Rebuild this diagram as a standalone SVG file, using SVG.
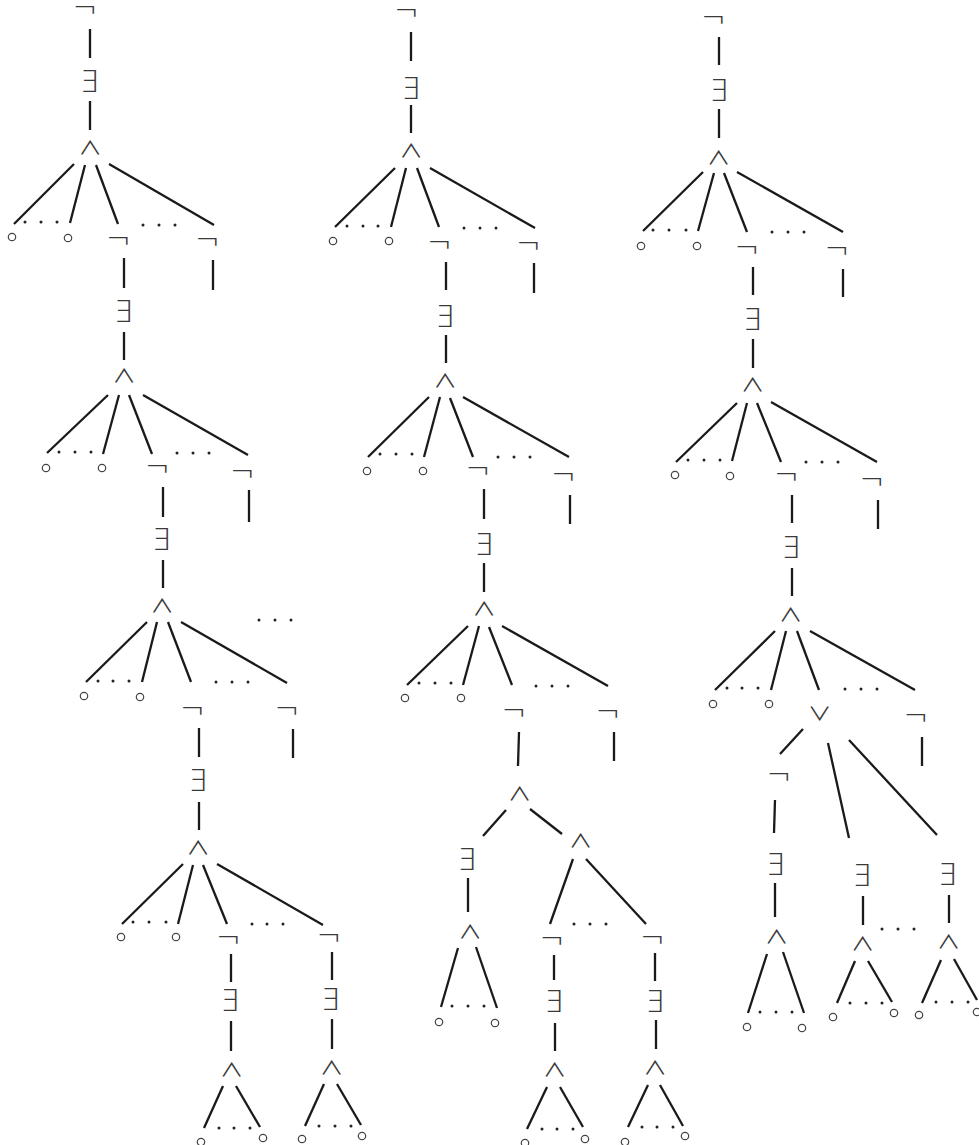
<svg xmlns="http://www.w3.org/2000/svg" width="979" height="1145" viewBox="0 0 979 1145">
<style>
.bg{fill:#fff}
line{stroke:#1a1a1a;stroke-width:2.3;stroke-linecap:butt}
.d{fill:#222}
.o{fill:none;stroke:#444;stroke-width:1.2}
text{font-family:"DejaVu Sans",sans-serif;font-weight:200;fill:#3a3a3a;text-anchor:middle}
.n{font-size:30px}
.e{font-size:30px}
.a{font-family:"Noto Sans CJK JP","DejaVu Sans",sans-serif;font-weight:400;font-size:19px}
</style>
<rect class="bg" x="0" y="0" width="979" height="1145"/>
<g id="connectors">
<line x1="90" y1="29" x2="90" y2="58"/><line x1="90" y1="101" x2="90" y2="130"/>
<line x1="74" y1="164" x2="14" y2="224"/><line x1="85" y1="165" x2="70" y2="223"/><line x1="96" y1="165" x2="118" y2="224"/><line x1="109" y1="164" x2="214" y2="225"/>
<line x1="124" y1="258" x2="124" y2="288"/><line x1="213" y1="260" x2="213" y2="290"/>
<line x1="124" y1="332" x2="124" y2="360"/>
<line x1="108" y1="395" x2="47" y2="453"/><line x1="119" y1="395" x2="103" y2="454"/><line x1="129" y1="395" x2="152" y2="454"/><line x1="143" y1="395" x2="248" y2="455"/>
<line x1="163" y1="487" x2="163" y2="517"/><line x1="249" y1="490" x2="249" y2="522"/>
<line x1="163" y1="560" x2="163" y2="588"/>
<line x1="147" y1="622" x2="86" y2="682"/><line x1="157" y1="622" x2="142" y2="682"/><line x1="168" y1="622" x2="191" y2="682"/><line x1="181" y1="622" x2="287" y2="683"/>
<line x1="199" y1="728" x2="199" y2="757"/><line x1="293" y1="729" x2="293" y2="758"/>
<line x1="199" y1="802" x2="199" y2="830"/>
<line x1="183" y1="864" x2="122" y2="924"/><line x1="193" y1="865" x2="178" y2="924"/><line x1="203" y1="865" x2="227" y2="924"/><line x1="217" y1="864" x2="323" y2="925"/>
<line x1="231" y1="954" x2="231" y2="982"/><line x1="332" y1="952" x2="332" y2="980"/>
<line x1="231" y1="1021" x2="231" y2="1051"/><line x1="332" y1="1019" x2="332" y2="1049"/>
<line x1="223" y1="1086" x2="204" y2="1128"/><line x1="236" y1="1086" x2="260" y2="1127"/>
<line x1="324" y1="1084" x2="305" y2="1126"/><line x1="337" y1="1084" x2="361" y2="1125"/>

<line x1="411" y1="32" x2="411" y2="61"/><line x1="411" y1="105" x2="411" y2="133"/>
<line x1="395" y1="168" x2="335" y2="227"/><line x1="406" y1="168" x2="391" y2="227"/><line x1="417" y1="168" x2="439" y2="227"/><line x1="430" y1="168" x2="535" y2="228"/>
<line x1="446" y1="262" x2="446" y2="290"/><line x1="534" y1="263" x2="534" y2="293"/>
<line x1="446" y1="335" x2="446" y2="363"/>
<line x1="429" y1="397" x2="368" y2="457"/><line x1="440" y1="397" x2="424" y2="457"/><line x1="450" y1="398" x2="473" y2="457"/><line x1="463" y1="397" x2="569" y2="457"/>
<line x1="484" y1="489" x2="484" y2="519"/><line x1="570" y1="495" x2="570" y2="524"/>
<line x1="484" y1="563" x2="484" y2="592"/>
<line x1="468" y1="626" x2="407" y2="685"/><line x1="479" y1="626" x2="463" y2="685"/><line x1="489" y1="627" x2="512" y2="685"/><line x1="502" y1="626" x2="608" y2="686"/>
<line x1="519" y1="732" x2="518" y2="766"/><line x1="614" y1="732" x2="614" y2="761"/>
<line x1="506" y1="810" x2="483" y2="836"/><line x1="530" y1="809" x2="562" y2="834"/>
<line x1="468" y1="878" x2="468" y2="912"/>
<line x1="458" y1="948" x2="441" y2="1007"/><line x1="476" y1="947" x2="497" y2="1008"/>
<line x1="573" y1="859" x2="550" y2="924"/><line x1="586" y1="859" x2="646" y2="924"/>
<line x1="554" y1="955" x2="554" y2="980"/><line x1="655" y1="953" x2="655" y2="981"/>
<line x1="555" y1="1023" x2="555" y2="1051"/><line x1="656" y1="1020" x2="656" y2="1049"/>
<line x1="547" y1="1087" x2="527" y2="1129"/><line x1="560" y1="1087" x2="583" y2="1127"/>
<line x1="648" y1="1085" x2="628" y2="1127"/><line x1="660" y1="1085" x2="683" y2="1126"/>

<line x1="719" y1="37" x2="719" y2="65"/><line x1="719" y1="109" x2="719" y2="138"/>
<line x1="703" y1="172" x2="643" y2="231"/><line x1="714" y1="173" x2="698" y2="231"/><line x1="724" y1="173" x2="747" y2="232"/><line x1="737" y1="172" x2="843" y2="232"/>
<line x1="753" y1="267" x2="753" y2="295"/><line x1="843" y1="269" x2="843" y2="297"/>
<line x1="753" y1="339" x2="753" y2="368"/>
<line x1="737" y1="403" x2="676" y2="462"/><line x1="747" y1="403" x2="732" y2="461"/><line x1="757" y1="403" x2="781" y2="462"/><line x1="771" y1="402" x2="877" y2="462"/>
<line x1="792" y1="495" x2="792" y2="523"/><line x1="878" y1="500" x2="878" y2="529"/>
<line x1="792" y1="568" x2="792" y2="596"/>
<line x1="775" y1="631" x2="715" y2="690"/><line x1="786" y1="631" x2="771" y2="690"/><line x1="797" y1="631" x2="819" y2="690"/><line x1="810" y1="631" x2="915" y2="690"/>
<line x1="922" y1="737" x2="922" y2="766"/>
<line x1="803" y1="729" x2="780" y2="754"/><line x1="828" y1="743" x2="849" y2="838"/><line x1="849" y1="740" x2="937" y2="835"/>
<line x1="775" y1="800" x2="774" y2="833"/><line x1="775" y1="883" x2="775" y2="917"/>
<line x1="767" y1="954" x2="748" y2="1013"/><line x1="783" y1="952" x2="804" y2="1013"/>
<line x1="863" y1="896" x2="863" y2="925"/><line x1="949" y1="895" x2="949" y2="923"/>
<line x1="855" y1="961" x2="837" y2="1003"/><line x1="868" y1="961" x2="892" y2="1002"/>
<line x1="941" y1="960" x2="922" y2="1003"/><line x1="954" y1="959" x2="977" y2="1000"/>
</g>
<g id="ellipses">
<circle class="d" cx="25" cy="222" r="1.5"/><circle class="d" cx="41" cy="222" r="1.5"/><circle class="d" cx="57" cy="222" r="1.5"/>
<circle class="d" cx="143" cy="225" r="1.5"/><circle class="d" cx="159" cy="225" r="1.5"/><circle class="d" cx="175" cy="225" r="1.5"/>
<circle class="d" cx="59" cy="452" r="1.5"/><circle class="d" cx="75" cy="452" r="1.5"/><circle class="d" cx="91" cy="452" r="1.5"/>
<circle class="d" cx="177" cy="453" r="1.5"/><circle class="d" cx="193" cy="453" r="1.5"/><circle class="d" cx="209" cy="453" r="1.5"/>
<circle class="d" cx="98" cy="681" r="1.5"/><circle class="d" cx="113" cy="681" r="1.5"/><circle class="d" cx="129" cy="681" r="1.5"/>
<circle class="d" cx="216" cy="682" r="1.5"/><circle class="d" cx="232" cy="682" r="1.5"/><circle class="d" cx="248" cy="682" r="1.5"/>
<circle class="d" cx="259" cy="620" r="1.5"/><circle class="d" cx="275" cy="620" r="1.5"/><circle class="d" cx="291" cy="620" r="1.5"/>
<circle class="d" cx="133" cy="922" r="1.5"/><circle class="d" cx="149" cy="922" r="1.5"/><circle class="d" cx="166" cy="922" r="1.5"/>
<circle class="d" cx="252" cy="924" r="1.5"/><circle class="d" cx="267" cy="924" r="1.5"/><circle class="d" cx="283" cy="924" r="1.5"/>
<circle class="d" cx="219" cy="1128" r="1.5"/><circle class="d" cx="234" cy="1128" r="1.5"/><circle class="d" cx="250" cy="1128" r="1.5"/>
<circle class="d" cx="319" cy="1126" r="1.5"/><circle class="d" cx="335" cy="1126" r="1.5"/><circle class="d" cx="351" cy="1126" r="1.5"/>
<circle class="d" cx="347" cy="226" r="1.5"/><circle class="d" cx="363" cy="226" r="1.5"/><circle class="d" cx="378" cy="226" r="1.5"/>
<circle class="d" cx="464" cy="228" r="1.5"/><circle class="d" cx="480" cy="228" r="1.5"/><circle class="d" cx="496" cy="228" r="1.5"/>
<circle class="d" cx="380" cy="454" r="1.5"/><circle class="d" cx="396" cy="454" r="1.5"/><circle class="d" cx="412" cy="454" r="1.5"/>
<circle class="d" cx="498" cy="457" r="1.5"/><circle class="d" cx="514" cy="457" r="1.5"/><circle class="d" cx="530" cy="457" r="1.5"/>
<circle class="d" cx="419" cy="683" r="1.5"/><circle class="d" cx="435" cy="683" r="1.5"/><circle class="d" cx="451" cy="683" r="1.5"/>
<circle class="d" cx="536" cy="686" r="1.5"/><circle class="d" cx="552" cy="686" r="1.5"/><circle class="d" cx="568" cy="686" r="1.5"/>
<circle class="d" cx="452" cy="1006" r="1.5"/><circle class="d" cx="468" cy="1006" r="1.5"/><circle class="d" cx="484" cy="1006" r="1.5"/>
<circle class="d" cx="574" cy="924" r="1.5"/><circle class="d" cx="590" cy="924" r="1.5"/><circle class="d" cx="606" cy="924" r="1.5"/>
<circle class="d" cx="542" cy="1129" r="1.5"/><circle class="d" cx="557" cy="1129" r="1.5"/><circle class="d" cx="573" cy="1129" r="1.5"/>
<circle class="d" cx="642" cy="1127" r="1.5"/><circle class="d" cx="657" cy="1127" r="1.5"/><circle class="d" cx="673" cy="1127" r="1.5"/>
<circle class="d" cx="653" cy="230" r="1.5"/><circle class="d" cx="669" cy="230" r="1.5"/><circle class="d" cx="686" cy="230" r="1.5"/>
<circle class="d" cx="772" cy="232" r="1.5"/><circle class="d" cx="788" cy="232" r="1.5"/><circle class="d" cx="804" cy="232" r="1.5"/>
<circle class="d" cx="688" cy="460" r="1.5"/><circle class="d" cx="704" cy="460" r="1.5"/><circle class="d" cx="720" cy="460" r="1.5"/>
<circle class="d" cx="806" cy="462" r="1.5"/><circle class="d" cx="822" cy="462" r="1.5"/><circle class="d" cx="838" cy="462" r="1.5"/>
<circle class="d" cx="727" cy="688" r="1.5"/><circle class="d" cx="742" cy="688" r="1.5"/><circle class="d" cx="758" cy="688" r="1.5"/>
<circle class="d" cx="845" cy="689" r="1.5"/><circle class="d" cx="861" cy="689" r="1.5"/><circle class="d" cx="877" cy="689" r="1.5"/>
<circle class="d" cx="760" cy="1012" r="1.5"/><circle class="d" cx="776" cy="1012" r="1.5"/><circle class="d" cx="792" cy="1012" r="1.5"/>
<circle class="d" cx="850" cy="1003" r="1.5"/><circle class="d" cx="866" cy="1003" r="1.5"/><circle class="d" cx="882" cy="1003" r="1.5"/>
<circle class="d" cx="936" cy="1002" r="1.5"/><circle class="d" cx="952" cy="1002" r="1.5"/><circle class="d" cx="968" cy="1002" r="1.5"/>
<circle class="d" cx="882" cy="929" r="1.5"/><circle class="d" cx="898" cy="929" r="1.5"/><circle class="d" cx="914" cy="929" r="1.5"/>
</g>
<g id="tree-left">
<g id="L1-neg"><text class="n" x="85" y="18">¬</text></g>
<g id="L1-ex"><text class="e" x="89" y="92">∃</text></g>
<g id="L1-and"><text class="a" transform="translate(90,155) scale(1.25,1)">∧</text></g>
<g id="L1-o1"><circle class="o" cx="12" cy="237" r="3.7"/></g>
<g id="L1-o2"><circle class="o" cx="68" cy="238" r="3.7"/></g>
<g id="L1-neg2"><text class="n" x="118.5" y="249">¬</text></g>
<g id="L1-neg3"><text class="n" x="207.5" y="250">¬</text></g>
<g id="L2-ex"><text class="e" x="123" y="322">∃</text></g>
<g id="L2-and"><text class="a" transform="translate(124,383) scale(1.25,1)">∧</text></g>
<g id="L2-o1"><circle class="o" cx="46" cy="468" r="3.7"/></g>
<g id="L2-o2"><circle class="o" cx="102" cy="468" r="3.7"/></g>
<g id="L2-neg2"><text class="n" x="157.5" y="477">¬</text></g>
<g id="L2-neg3"><text class="n" x="242.5" y="482">¬</text></g>
<g id="L3-ex"><text class="e" x="161" y="550">∃</text></g>
<g id="L3-and"><text class="a" transform="translate(162,613) scale(1.25,1)">∧</text></g>
<g id="L3-o1"><circle class="o" cx="84" cy="696" r="3.7"/></g>
<g id="L3-o2"><circle class="o" cx="140" cy="697" r="3.7"/></g>
<g id="L3-neg2"><text class="n" x="192.5" y="719">¬</text></g>
<g id="L3-neg3"><text class="n" x="287" y="719">¬</text></g>
<g id="L4-ex"><text class="e" x="197.5" y="791">∃</text></g>
<g id="L4-and"><text class="a" transform="translate(198,855) scale(1.25,1)">∧</text></g>
<g id="L4-o1"><circle class="o" cx="121" cy="937" r="3.7"/></g>
<g id="L4-o2"><circle class="o" cx="176" cy="937" r="3.7"/></g>
<g id="L4-neg2"><text class="n" x="228.5" y="948">¬</text></g>
<g id="L4-neg3"><text class="n" x="329" y="946">¬</text></g>
<g id="L5a-ex"><text class="e" x="229.5" y="1011">∃</text></g>
<g id="L5a-and"><text class="a" transform="translate(231.5,1077) scale(1.25,1)">∧</text></g>
<g id="L5a-o1"><circle class="o" cx="201" cy="1142" r="3.7"/></g>
<g id="L5a-o2"><circle class="o" cx="263" cy="1138" r="3.7"/></g>
<g id="L5b-ex"><text class="e" x="330" y="1010">∃</text></g>
<g id="L5b-and"><text class="a" transform="translate(331.5,1075) scale(1.25,1)">∧</text></g>
<g id="L5b-o1"><circle class="o" cx="302" cy="1139" r="3.7"/></g>
<g id="L5b-o2"><circle class="o" cx="362" cy="1136" r="3.7"/></g>
</g>
<g id="tree-middle">
<g id="M1-neg"><text class="n" x="406.5" y="21">¬</text></g>
<g id="M1-ex"><text class="e" x="410.5" y="99">∃</text></g>
<g id="M1-and"><text class="a" transform="translate(411,158) scale(1.25,1)">∧</text></g>
<g id="M1-o1"><circle class="o" cx="333" cy="241" r="3.7"/></g>
<g id="M1-o2"><circle class="o" cx="389" cy="241" r="3.7"/></g>
<g id="M1-neg2"><text class="n" x="439.5" y="253">¬</text></g>
<g id="M1-neg3"><text class="n" x="528.5" y="254">¬</text></g>
<g id="M2-ex"><text class="e" x="444.5" y="327">∃</text></g>
<g id="M2-and"><text class="a" transform="translate(445,388) scale(1.25,1)">∧</text></g>
<g id="M2-o1"><circle class="o" cx="367" cy="471" r="3.7"/></g>
<g id="M2-o2"><circle class="o" cx="423" cy="471" r="3.7"/></g>
<g id="M2-neg2"><text class="n" x="478" y="479">¬</text></g>
<g id="M2-neg3"><text class="n" x="563.5" y="485">¬</text></g>
<g id="M3-ex"><text class="e" x="483.5" y="555">∃</text></g>
<g id="M3-and"><text class="a" transform="translate(484,616) scale(1.25,1)">∧</text></g>
<g id="M3-o1"><circle class="o" cx="405" cy="698" r="3.7"/></g>
<g id="M3-o2"><circle class="o" cx="461" cy="698" r="3.7"/></g>
<g id="M3-neg2"><text class="n" x="514" y="721">¬</text></g>
<g id="M3-neg3"><text class="n" x="608" y="722">¬</text></g>
<g id="M4-and"><text class="a" transform="translate(519.5,801) scale(1.25,1)">∧</text></g>
<g id="M4-ex"><text class="e" x="466.5" y="870">∃</text></g>
<g id="M4-and2"><text class="a" transform="translate(470,939) scale(1.25,1)">∧</text></g>
<g id="M4-o1"><circle class="o" cx="439" cy="1022" r="3.7"/></g>
<g id="M4-o2"><circle class="o" cx="495" cy="1023" r="3.7"/></g>
<g id="M4-and3"><text class="a" transform="translate(580.5,848) scale(1.25,1)">∧</text></g>
<g id="M5a-neg"><text class="n" x="552" y="949">¬</text></g>
<g id="M5a-ex"><text class="e" x="553.5" y="1012">∃</text></g>
<g id="M5a-and"><text class="a" transform="translate(554.5,1077) scale(1.25,1)">∧</text></g>
<g id="M5a-o1"><circle class="o" cx="525" cy="1143" r="3.7"/></g>
<g id="M5a-o2"><circle class="o" cx="585" cy="1139" r="3.7"/></g>
<g id="M5b-neg"><text class="n" x="652.5" y="948">¬</text></g>
<g id="M5b-ex"><text class="e" x="654.5" y="1012">∃</text></g>
<g id="M5b-and"><text class="a" transform="translate(655,1075) scale(1.25,1)">∧</text></g>
<g id="M5b-o1"><circle class="o" cx="625" cy="1142" r="3.7"/></g>
<g id="M5b-o2"><circle class="o" cx="685" cy="1136" r="3.7"/></g>
</g>
<g id="tree-right">
<g id="R1-neg"><text class="n" x="713.5" y="28">¬</text></g>
<g id="R1-ex"><text class="e" x="718.5" y="101">∃</text></g>
<g id="R1-and"><text class="a" transform="translate(718.5,165) scale(1.25,1)">∧</text></g>
<g id="R1-o1"><circle class="o" cx="641" cy="246" r="3.7"/></g>
<g id="R1-o2"><circle class="o" cx="697" cy="246" r="3.7"/></g>
<g id="R1-neg2"><text class="n" x="747" y="258">¬</text></g>
<g id="R1-neg3"><text class="n" x="837" y="259">¬</text></g>
<g id="R2-ex"><text class="e" x="752" y="330">∃</text></g>
<g id="R2-and"><text class="a" transform="translate(752.5,392) scale(1.25,1)">∧</text></g>
<g id="R2-o1"><circle class="o" cx="675" cy="475" r="3.7"/></g>
<g id="R2-o2"><circle class="o" cx="730" cy="476" r="3.7"/></g>
<g id="R2-neg2"><text class="n" x="786.5" y="485">¬</text></g>
<g id="R2-neg3"><text class="n" x="872" y="490">¬</text></g>
<g id="R3-ex"><text class="e" x="790.5" y="558">∃</text></g>
<g id="R3-and"><text class="a" transform="translate(790.5,622) scale(1.25,1)">∧</text></g>
<g id="R3-o1"><circle class="o" cx="713" cy="704" r="3.7"/></g>
<g id="R3-o2"><circle class="o" cx="769" cy="704" r="3.7"/></g>
<g id="R3-or"><text class="a" transform="translate(819.5,721) scale(1.25,1)">∨</text></g>
<g id="R3-neg3"><text class="n" x="916" y="726">¬</text></g>
<g id="R4a-neg"><text class="n" x="779" y="785">¬</text></g>
<g id="R4a-ex"><text class="e" x="775" y="875">∃</text></g>
<g id="R4a-and"><text class="a" transform="translate(776.5,944) scale(1.25,1)">∧</text></g>
<g id="R4a-o1"><circle class="o" cx="747" cy="1027" r="3.7"/></g>
<g id="R4a-o2"><circle class="o" cx="802" cy="1028" r="3.7"/></g>
<g id="R4b-ex"><text class="e" x="861.5" y="886">∃</text></g>
<g id="R4b-and"><text class="a" transform="translate(862.5,951) scale(1.25,1)">∧</text></g>
<g id="R4b-o1"><circle class="o" cx="833" cy="1017" r="3.7"/></g>
<g id="R4b-o2"><circle class="o" cx="894" cy="1013" r="3.7"/></g>
<g id="R4c-ex"><text class="e" x="947" y="885">∃</text></g>
<g id="R4c-and"><text class="a" transform="translate(948.5,949) scale(1.25,1)">∧</text></g>
<g id="R4c-o1"><circle class="o" cx="919" cy="1015" r="3.7"/></g>
<g id="R4c-o2"><circle class="o" cx="977" cy="1012" r="3.7"/></g>
</g>
</svg>
